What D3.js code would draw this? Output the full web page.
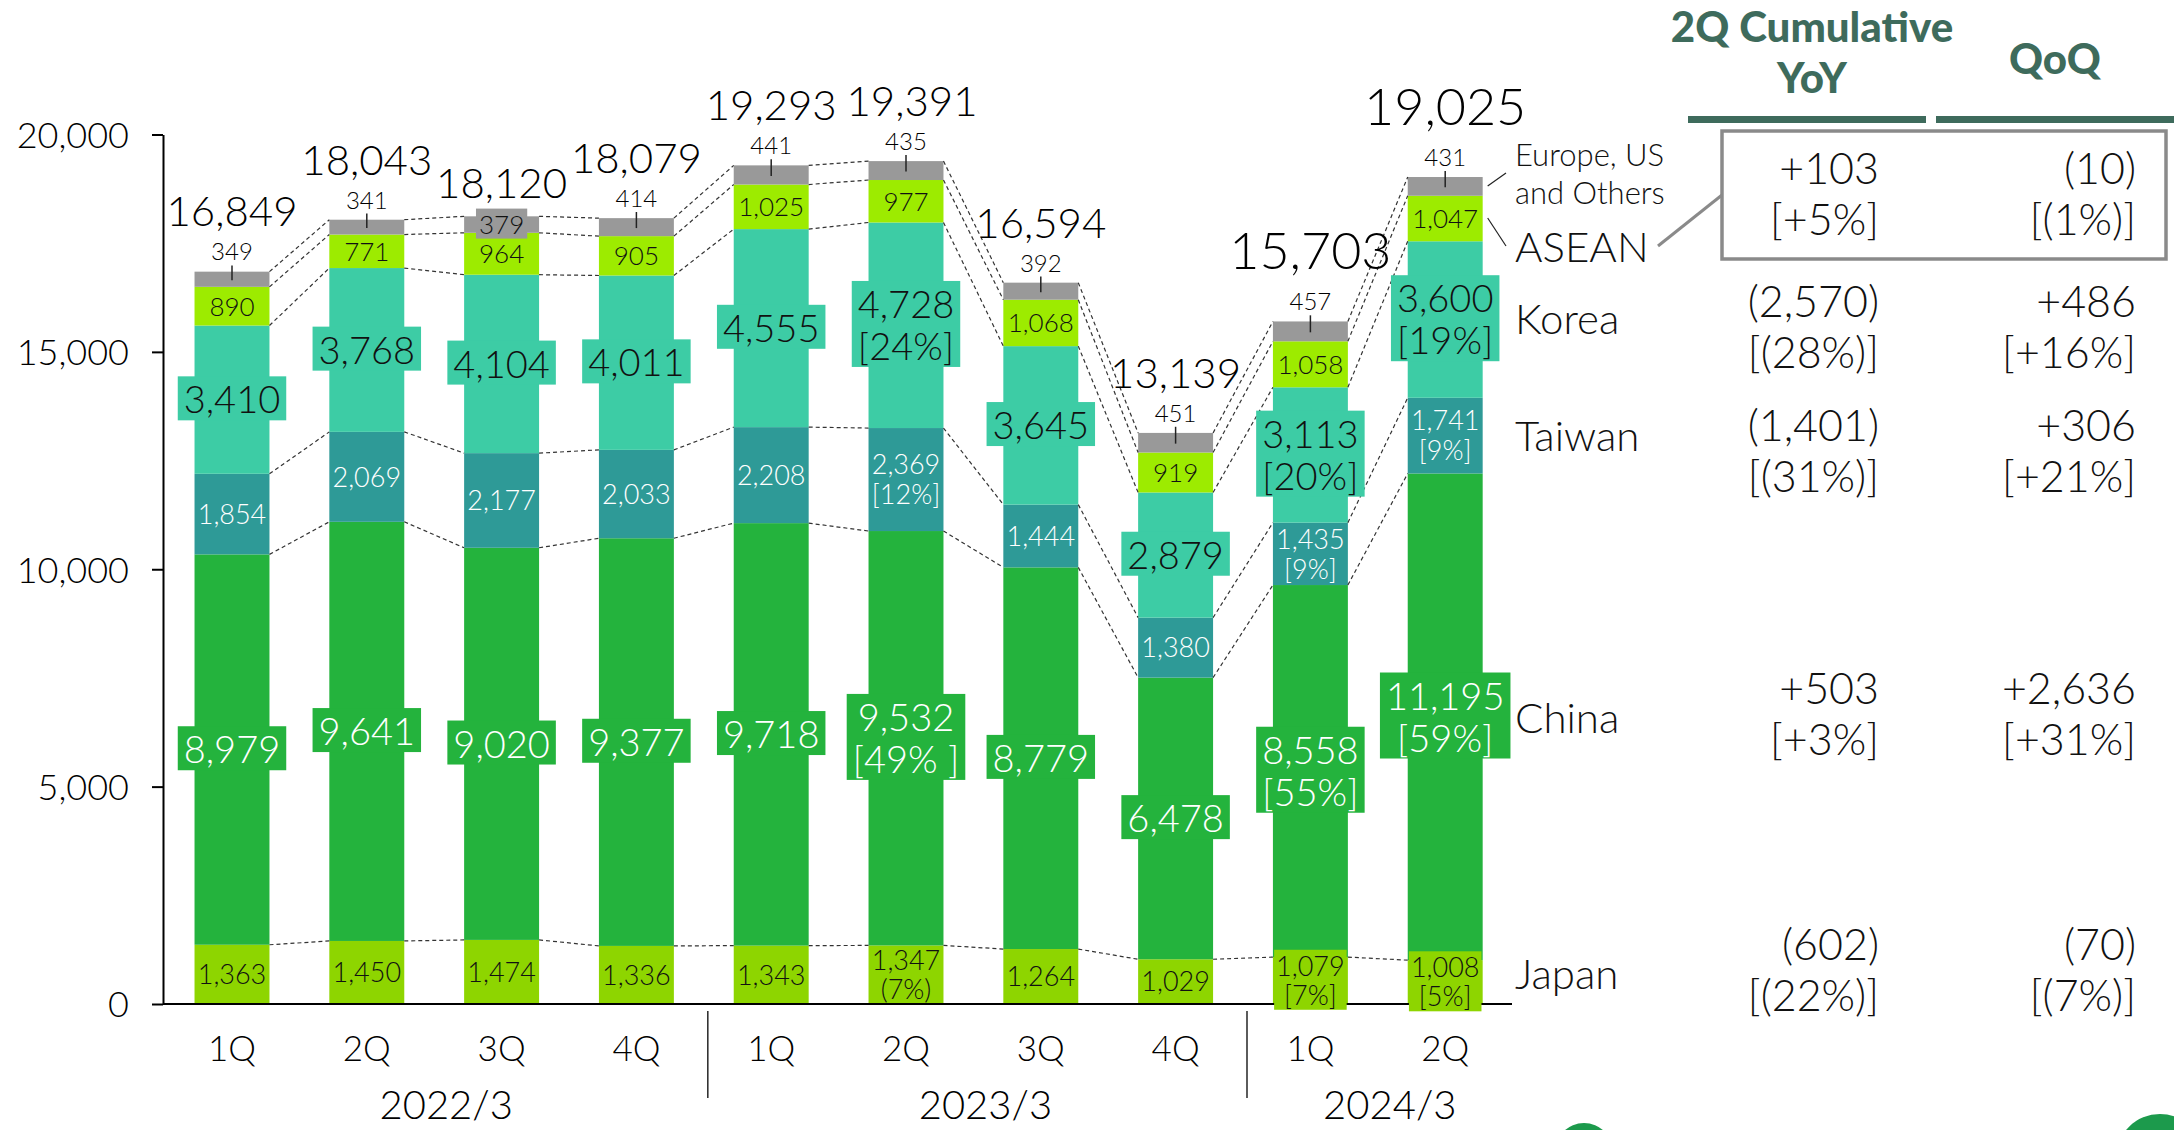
<!DOCTYPE html>
<html>
<head>
<meta charset="utf-8">
<script src="https://cdn.jsdelivr.net/npm/d3@7"></script>
<style>
  body { margin: 0; background: #fff; }
  svg { display: block; font-family: Lato, "Open Sans", sans-serif; }
</style>
</head>
<body>
<svg id="chart" width="2174" height="1130"></svg>
<script>
// quarterly sales by region
var quarters = ["1Q", "2Q", "3Q", "4Q", "1Q", "2Q", "3Q", "4Q", "1Q", "2Q"];
var fiscalYears = ["2022/3", "2023/3", "2024/3"];
var yearOfQuarter = [0, 0, 0, 0, 1, 1, 1, 1, 2, 2];

var japan  = [1363, 1450, 1474, 1336, 1343, 1347, 1264, 1029, 1079, 1008];
var china  = [8979, 9641, 9020, 9377, 9718, 9532, 8779, 6478, 8558, 11195];
var taiwan = [1854, 2069, 2177, 2033, 2208, 2369, 1444, 1380, 1435, 1741];
var korea  = [3410, 3768, 4104, 4011, 4555, 4728, 3645, 2879, 3113, 3600];
var asean  = [890, 771, 964, 905, 1025, 977, 1068, 919, 1058, 1047];
var others = [349, 341, 379, 414, 441, 435, 392, 451, 457, 431];
var totals = [16849, 18043, 18120, 18079, 19293, 19391, 16594, 13139, 15703, 19025];

// share labels shown under some values
var japanShare  = ["", "", "", "", "", "(7%)", "", "", "[7%]", "[5%]"];
var chinaShare  = ["", "", "", "", "", "[49% ]", "", "", "[55%]", "[59%]"];
var taiwanShare = ["", "", "", "", "", "[12%]", "", "", "[9%]", "[9%]"];
var koreaShare  = ["", "", "", "", "", "[24%]", "", "", "[20%]", "[19%]"];

var yTicks = [0, 5000, 10000, 15000, 20000];

// right-hand table
var tableRegions = ["ASEAN", "Korea", "Taiwan", "China", "Japan"];
var yoyValues = ["+103", "(2,570)", "(1,401)", "+503", "(602)"];
var yoyShares = ["[+5%]", "[(28%)]", "[(31%)]", "[+3%]", "[(22%)]"];
var qoqValues = ["(10)", "+486", "+306", "+2,636", "(70)"];
var qoqShares = ["[(1%)]", "[+16%]", "[+21%]", "[+31%]", "[(7%)]"];

var colors = {
  japan: "#8ed500", china: "#24b33d", taiwan: "#2e9a97",
  korea: "#3dcca5", asean: "#9deb00", others: "#999999", head: "#3e6b5c"
};

var svg = d3.select("#chart");
var fmt = d3.format(",");

var y = d3.scaleLinear().domain([0, 20000]).range([1004, 134.5]);
var x = d3.scaleBand().domain(d3.range(quarters.length))
  .range([164.6, 1512.6]).paddingInner(0.444).paddingOuter(0.222);
var bw = x.bandwidth();

var series = [
  {key: "japan", values: japan},
  {key: "china", values: china},
  {key: "taiwan", values: taiwan},
  {key: "korea", values: korea},
  {key: "asean", values: asean},
  {key: "others", values: others}
];

// stacked bounds
var stackData = quarters.map(function(q, i) {
  var row = {i: i};
  series.forEach(function(s) { row[s.key] = s.values[i]; });
  return row;
});
var stacked = d3.stack().keys(series.map(function(s) { return s.key; }))(stackData);

// bars
svg.append("g").selectAll("g")
  .data(stacked)
  .enter().append("g")
    .attr("fill", function(d) { return colors[d.key]; })
  .selectAll("rect")
  .data(function(d) { return d; })
  .enter().append("rect")
    .attr("x", function(d, i) { return x(i); })
    .attr("width", bw)
    .attr("y", function(d) { return y(d[1]); })
    .attr("height", function(d) { return y(d[0]) - y(d[1]); });

// dashed connectors between segment boundaries
var conn = svg.append("g")
  .attr("stroke", "#333")
  .attr("stroke-width", 1.2)
  .attr("stroke-dasharray", "4,3")
  .attr("fill", "none");
stacked.forEach(function(layer) {
  for (var i = 0; i < quarters.length - 1; i++) {
    conn.append("line")
      .attr("x1", x(i) + bw).attr("y1", y(layer[i][1]))
      .attr("x2", x(i + 1)).attr("y2", y(layer[i + 1][1]));
  }
});

// y axis
var yAxis = svg.append("g")
  .attr("transform", "translate(163,0)")
  .call(d3.axisLeft(y).tickValues(yTicks).tickFormat(fmt).tickSizeInner(11).tickSizeOuter(0).tickPadding(23));
yAxis.select(".domain").attr("stroke", "#000").attr("stroke-width", 2);
yAxis.selectAll(".tick line").attr("stroke", "#000").attr("stroke-width", 2);
yAxis.selectAll("text")
  .attr("font-size", 36).attr("font-weight", 300).attr("fill", "#000")
  .attr("font-family", "Lato, sans-serif").attr("dy", "0.36em");

// x axis
svg.append("line")
  .attr("x1", 163).attr("x2", 1512)
  .attr("y1", y(0)).attr("y2", y(0))
  .attr("stroke", "#000").attr("stroke-width", 2.2);

var xAxis = svg.append("g")
  .attr("transform", "translate(0," + y(0) + ")")
  .call(d3.axisBottom(x).tickSize(0).tickFormat(function(i) { return quarters[i]; }));
xAxis.select(".domain").remove();
xAxis.selectAll("text")
  .attr("y", 57).attr("dy", 0)
  .attr("font-size", 35).attr("font-weight", 300).attr("fill", "#000")
  .attr("font-family", "Lato, sans-serif");

// fiscal year labels and separators
fiscalYears.forEach(function(fy, k) {
  var idx = d3.range(quarters.length).filter(function(i) { return yearOfQuarter[i] === k; });
  var cx = (x(idx[0]) + x(idx[idx.length - 1]) + bw) / 2 + 12;
  svg.append("text")
    .attr("x", cx).attr("y", 1119)
    .attr("text-anchor", "middle")
    .attr("font-size", 40).attr("font-weight", 300)
    .text(fy);
  if (k > 0) {
    var sx = (x(idx[0] - 1) + bw + x(idx[0])) / 2 + 4;
    svg.append("line")
      .attr("x1", sx).attr("x2", sx)
      .attr("y1", 1011).attr("y2", 1098)
      .attr("stroke", "#333").attr("stroke-width", 1.6);
  }
});

// label helper
var labels = svg.append("g").attr("font-weight", 300);
function addLabel(cx, cy, lines, size, lineH, fill, bg, padX) {
  var first = cy - (lines.length - 1) * lineH / 2 + size * 0.36;
  var t = labels.append("text")
    .attr("text-anchor", "middle")
    .attr("font-size", size)
    .attr("fill", fill);
  lines.forEach(function(l, k) {
    t.append("tspan").attr("x", cx).attr("y", first + k * lineH).text(l);
  });
  if (bg) {
    var b = t.node().getBBox();
    labels.insert("rect", function() { return t.node(); })
      .attr("x", b.x - padX).attr("y", b.y + 1)
      .attr("width", b.width + padX * 2).attr("height", b.height - 2)
      .attr("fill", bg);
  }
  return t;
}
function withShare(v, s) { return s ? [fmt(v), s] : [fmt(v)]; }

quarters.forEach(function(q, i) {
  var cx = x(i) + bw / 2;
  var bj = 0, bc = bj + japan[i], bt = bc + china[i], bk = bt + taiwan[i],
      ba = bk + korea[i], bo = ba + asean[i], top = bo + others[i];

  addLabel(cx, y((bj + bc) / 2), withShare(japan[i], japanShare[i]), 27, 29, "#111",
    japanShare[i] && japanShare[i][0] === "[" ? colors.japan : null, 2);
  addLabel(cx, y((bc + bt) / 2), withShare(china[i], chinaShare[i]), 38, 42, "#fff", colors.china, 6);
  addLabel(cx, y((bt + bk) / 2), withShare(taiwan[i], taiwanShare[i]), 27, 30, "#fff", null, 0);
  addLabel(cx, y((bk + ba) / 2), withShare(korea[i], koreaShare[i]), 38, 42, "#111", colors.korea, 6);
  addLabel(cx, y((ba + bo) / 2), [fmt(asean[i])], 26, 0, "#111", null, 0);

  var yTop = y(totals[i]);
  var big = yearOfQuarter[i] === 2;
  // 2Q of 2023/3 label sits a little right of its bar, as in the source
  var tx = i === 5 ? cx + 6 : cx;
  if (i === 2) {
    // small label sits on the bar itself
    addLabel(cx, yTop + 8, [fmt(others[i])], 26, 0, "#111", colors.others, 3);
    labels.append("text")
      .attr("x", cx).attr("y", yTop - 18)
      .attr("text-anchor", "middle").attr("font-size", 42)
      .text(fmt(totals[i]));
  } else {
    labels.append("line")
      .attr("x1", cx).attr("x2", cx)
      .attr("y1", yTop - 6).attr("y2", (y(bo) + yTop) / 2 + 1)
      .attr("stroke", "#222").attr("stroke-width", 1.5);
    labels.append("text")
      .attr("x", cx).attr("y", yTop - 11)
      .attr("text-anchor", "middle").attr("font-size", 24)
      .text(fmt(others[i]));
    labels.append("text")
      .attr("x", tx).attr("y", yTop - (big ? 52 : 45))
      .attr("text-anchor", "middle").attr("font-size", big ? 52 : 42)
      .text(fmt(totals[i]));
  }
});

// region legend at right of the last bar
var lastX = x(quarters.length - 1) + bw;
var legend = svg.append("g").attr("font-weight", 300).attr("fill", "#111");
legend.append("text").attr("x", 1515).attr("y", 166).attr("font-size", 31).text("Europe, US");
legend.append("text").attr("x", 1515).attr("y", 204).attr("font-size", 31).text("and Others");
legend.append("line").attr("x1", lastX + 5).attr("y1", 186).attr("x2", 1506).attr("y2", 173)
  .attr("stroke", "#222").attr("stroke-width", 1.2);
legend.append("line").attr("x1", lastX + 5).attr("y1", 218).attr("x2", 1506).attr("y2", 246)
  .attr("stroke", "#222").attr("stroke-width", 1.2);

var regionY = [262, 334, 451, 733, 989];
tableRegions.forEach(function(r, k) {
  legend.append("text").attr("x", 1515).attr("y", regionY[k]).attr("font-size", 42).text(r);
});

// table header
var head = svg.append("g").attr("fill", colors.head).attr("font-weight", 900)
  .attr("text-anchor", "middle").attr("font-size", 42);
head.append("text").attr("x", 1812).attr("y", 42).text("2Q Cumulative");
head.append("text").attr("x", 1812).attr("y", 93).text("YoY");
head.append("text").attr("x", 2055).attr("y", 74).text("QoQ");
head.append("rect").attr("x", 1688).attr("y", 116).attr("width", 238).attr("height", 7);
head.append("rect").attr("x", 1936).attr("y", 116).attr("width", 238).attr("height", 7);

// highlighted ASEAN box
svg.append("rect")
  .attr("x", 1722).attr("y", 131).attr("width", 444).attr("height", 128)
  .attr("fill", "none").attr("stroke", "#8a8a8a").attr("stroke-width", 3.5);
svg.append("line")
  .attr("x1", 1658).attr("y1", 246).attr("x2", 1722).attr("y2", 195)
  .attr("stroke", "#8a8a8a").attr("stroke-width", 3);

// table values
var rowY = [184, 317, 441, 704, 960];
var table = svg.append("g").attr("font-weight", 300).attr("font-size", 43)
  .attr("text-anchor", "end").attr("fill", "#111");
tableRegions.forEach(function(r, k) {
  table.append("text").attr("x", 1879).attr("y", rowY[k]).text(yoyValues[k]);
  table.append("text").attr("x", 1879).attr("y", rowY[k] + 51).text(yoyShares[k]);
  table.append("text").attr("x", 2136).attr("y", rowY[k]).text(qoqValues[k]);
  table.append("text").attr("x", 2136).attr("y", rowY[k] + 51).text(qoqShares[k]);
});

// decorative dots at the bottom edge
svg.append("circle").attr("cx", 1584).attr("cy", 1152).attr("r", 29).attr("fill", "#1c9a4c");
svg.append("circle").attr("cx", 2160).attr("cy", 1158).attr("r", 44).attr("fill", "#1c9a4c");
</script>
</body>
</html>
